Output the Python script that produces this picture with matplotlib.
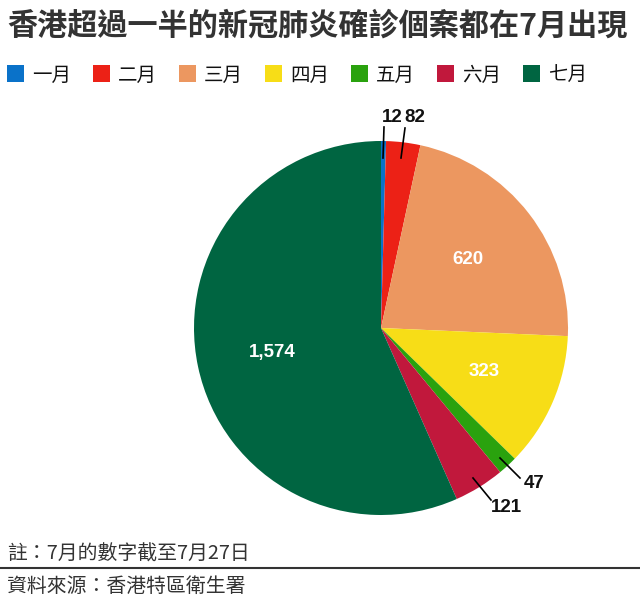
import matplotlib
matplotlib.use("Agg")
import matplotlib.pyplot as plt
from matplotlib.patches import Rectangle
from matplotlib.lines import Line2D

plt.rcParams['font.family'] = ['Noto Sans CJK TC', 'DejaVu Sans']

months = ["一月", "二月", "三月", "四月", "五月", "六月", "七月"]
values = [12, 82, 620, 323, 47, 121, 1574]
value_labels = ["12", "82", "620", "323", "47", "121", "1,574"]
colors = ["#0a72c9", "#ec2116", "#ec9760", "#f7dd17", "#2aa20e", "#c1183c", "#006541"]

W, H = 640, 601
fig = plt.figure(figsize=(W / 100, H / 100), dpi=100)

def px(x, y):
    return x / W, 1 - y / H

# Title
fig.text(*px(7, 26), "香港超過一半的新冠肺炎確診個案都在7月出現", fontsize=21.7,
         fontweight='bold', color='#333333', va='center', ha='left')

# Legend
leg_x = [7, 93, 179, 265, 351, 437, 523]
for x, m, c in zip(leg_x, months, colors):
    fx, fy = px(x, 82)
    fig.patches.append(Rectangle((fx, fy), 17 / W, 17 / H, transform=fig.transFigure,
                                 facecolor=c, edgecolor='none'))
    fig.text(*px(x + 25, 75), m, fontsize=14, color='#111111', va='center', ha='left')

# Pie
cx, cy, r = 381, 328, 187
ax = fig.add_axes([(cx - r) / W, 1 - (cy + r) / H, 2 * r / W, 2 * r / H])
ax.pie(values, colors=colors, startangle=90, counterclock=False, radius=1,
       wedgeprops=dict(linewidth=0))
ax.set_xlim(-1, 1)
ax.set_ylim(-1, 1)
ax.set_aspect('equal')
ax.axis('off')

def d(x, y):
    return (x - cx) / r, (cy - y) / r

# inside labels
inside = {2: (468, 260), 3: (484, 372), 6: (272, 352)}
for i, (x, y) in inside.items():
    ax.text(*d(x, y), value_labels[i], color='white', fontsize=13.5, fontweight='bold',
            ha='center', va='center', family='Liberation Sans')

# outside labels with leader lines
outside = {
    0: ((383, 158), (384, 127), (392, 118)),
    1: ((401, 158), (405, 128), (415, 118)),
    4: ((500, 458), (520, 478), (534, 484)),
    5: ((473, 478), (491, 500), (506, 508)),
}
for i, (p0, p1, t) in outside.items():
    x0, y0 = d(*p0)
    x1, y1 = d(*p1)
    ax.add_line(Line2D([x0, x1], [y0, y1], color='black', linewidth=1.2, clip_on=False))
    ax.text(*d(*t), value_labels[i], color='#111111', fontsize=13.5, fontweight='bold',
            ha='center', va='center', family='Liberation Sans', clip_on=False)

# Footer
fig.text(*px(7, 554), "註：7月的數字截至7月27日", fontsize=14.3, color='#333333',
         va='center', ha='left')
fig.lines.append(Line2D([0, 1], [1 - 568 / H, 1 - 568 / H], transform=fig.transFigure,
                        color='#333333', linewidth=1.5))
fig.text(*px(7, 586), "資料來源：香港特區衛生署", fontsize=14.3, color='#333333',
         va='center', ha='left')

fig.savefig("out.png", dpi=100, facecolor='white')
